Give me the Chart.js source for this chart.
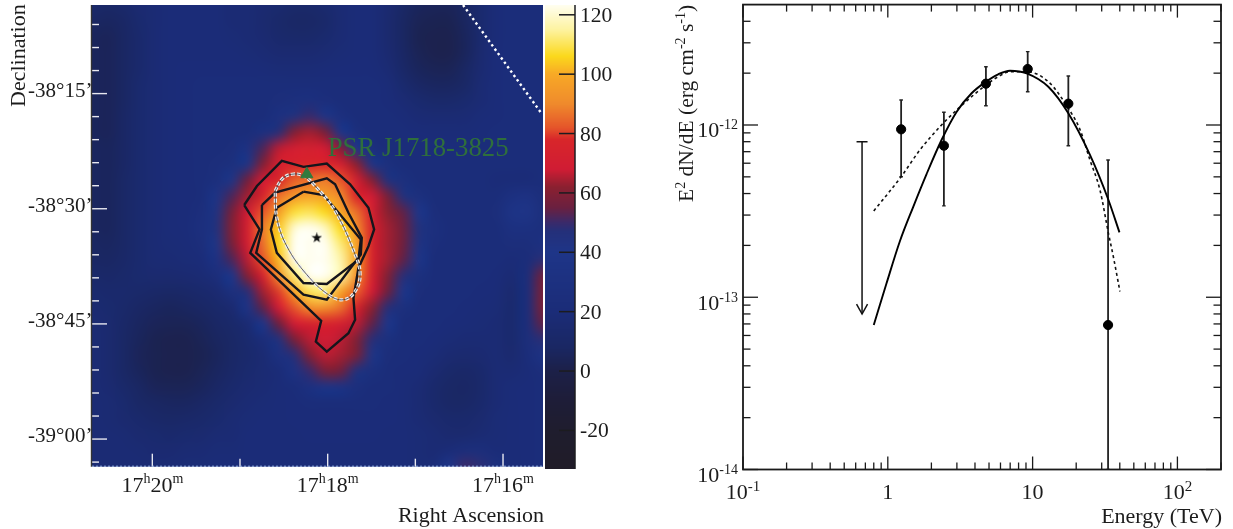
<!DOCTYPE html>
<html>
<head>
<meta charset="utf-8">
<title>HESS J1718-385</title>
<script src="https://cdn.jsdelivr.net/npm/chart.js@4"></script>
<style>
html,body{margin:0;padding:0;background:#fff;overflow:hidden}
canvas{position:absolute;left:0;top:0}
</style>
</head>
<body>
<canvas id="map" width="1233" height="529"></canvas>
<canvas id="bar" width="1233" height="529"></canvas>
<canvas id="sed" width="1233" height="529"></canvas>
<script>
// excess map, rows top to bottom, columns left to right
var excess = [
[12,10,12,16,18,20,20,20,20,18,18,16,14,12,12,14,18,20,20,16,10,6,5,5,8,14,20,22,22,22],
[8,7,9,14,18,20,20,20,20,18,18,15,12,10,10,12,17,20,20,15,8,4,3,3,7,14,20,22,22,22],
[6,5,8,13,18,20,20,20,20,19,18,16,13,12,12,14,18,20,20,15,8,3,2,2,6,14,20,22,22,22],
[6,5,8,13,18,20,20,20,20,20,19,18,16,16,16,17,19,20,20,16,9,4,2,2,6,15,21,22,22,22],
[6,5,8,13,18,20,21,21,21,21,21,20,19,19,19,20,21,21,21,18,11,6,4,4,8,16,21,22,22,22],
[6,5,8,14,18,20,21,22,22,22,22,22,22,22,22,22,22,22,22,20,14,9,7,7,10,17,21,22,22,22],
[6,5,8,14,18,20,21,22,22,22,22,22,24,26,27,25,23,22,22,21,18,14,12,12,14,18,21,22,22,22],
[6,5,9,14,18,20,21,22,22,22,22,23,30,46,50,42,27,23,22,22,20,18,17,17,18,20,21,22,22,22],
[6,5,9,14,18,20,21,22,22,22,23,30,48,60,64,58,40,26,23,22,22,21,20,20,20,21,22,22,22,22],
[7,6,9,14,18,20,21,22,23,24,32,52,66,70,72,68,60,40,26,23,22,22,22,22,22,22,22,22,22,22],
[7,6,9,14,18,20,21,22,24,28,42,60,72,76,78,78,72,62,42,28,23,22,22,22,22,22,22,22,22,22],
[7,6,10,14,18,20,21,22,26,42,56,68,78,84,86,88,82,72,60,46,28,23,22,22,22,22,20,20,20,22],
[7,6,10,14,18,20,21,23,36,52,64,76,86,94,98,96,90,78,68,58,46,28,23,22,22,22,22,30,32,24],
[7,6,10,14,18,20,21,25,44,58,68,82,96,108,110,106,98,86,72,62,54,40,24,22,22,22,24,36,38,26],
[7,6,10,14,18,20,21,27,46,60,72,88,104,120,124,118,106,92,76,64,56,46,27,22,22,22,22,30,30,26],
[8,7,10,14,18,19,20,24,42,58,70,86,106,124,128,124,112,98,76,64,56,44,25,22,22,22,22,24,24,30],
[9,8,11,14,17,18,19,21,32,52,66,82,102,122,128,126,116,98,76,64,54,38,23,22,22,22,22,20,22,48],
[12,11,12,14,15,15,16,18,24,40,60,74,92,112,126,124,116,94,74,60,48,28,22,22,22,22,21,18,24,56],
[14,13,13,12,11,10,11,13,16,28,48,64,80,98,110,112,98,84,68,56,40,24,22,22,22,21,20,15,24,58],
[16,14,12,9,7,6,7,9,12,16,36,54,68,82,92,92,86,76,62,48,28,22,22,22,21,20,19,14,24,58],
[17,15,11,7,5,4,4,6,9,12,18,40,56,68,74,76,72,66,54,40,23,22,22,21,20,19,18,14,24,54],
[18,15,10,6,3,2,2,4,7,10,14,22,46,58,66,68,66,60,48,28,22,22,21,19,18,18,18,14,24,48],
[18,15,10,5,3,2,2,3,6,10,13,17,30,48,60,66,64,58,42,24,22,21,19,16,15,16,18,15,22,34],
[18,15,10,6,3,2,2,4,7,11,14,17,20,32,50,58,56,46,28,22,21,20,16,12,11,13,18,18,20,24],
[18,16,12,8,5,4,4,6,9,13,16,18,20,22,30,36,34,26,22,22,20,18,13,10,9,12,18,20,21,22],
[18,17,14,10,8,7,7,9,12,15,18,19,20,21,22,23,23,22,22,21,20,17,13,10,10,13,18,20,21,22],
[18,17,15,13,11,10,11,12,14,17,19,20,20,21,21,21,21,21,21,21,20,18,15,13,13,15,19,20,21,22],
[18,18,17,15,14,13,14,15,17,18,20,20,20,20,21,21,21,21,21,20,20,19,17,15,15,17,19,20,21,22],
[18,18,18,17,16,16,17,18,19,19,20,20,20,20,20,20,20,20,20,20,20,19,18,20,24,24,20,20,21,22],
[18,18,18,18,18,18,19,19,20,20,20,20,20,20,20,20,20,20,20,20,20,19,20,40,50,48,28,20,21,22]
];

// contours, RA in minutes after 17h, Dec in arcmin after -38 deg
var outerRa  = [18.952,18.807,18.523,18.276,18.010,17.744,17.535,17.470,17.535,17.649,17.706,17.687,17.763,18.010,18.135,18.074,18.883,18.777];
var outerDec = [-29.516,-27.032,-23.762,-24.547,-24.111,-26.814,-29.865,-32.699,-34.878,-37.712,-41.635,-44.469,-46.212,-48.610,-47.302,-44.599,-35.750,-32.699];
var midRa    = [18.750,18.599,18.010,17.915,17.763,17.611,17.622,18.010,18.276,18.815,18.750];
var midDec   = [-29.516,-27.904,-26.029,-26.814,-30.519,-33.788,-35.968,-41.853,-41.199,-35.750,-32.699];
var innerRa  = [18.276,18.048,17.858,17.622,17.649,18.010,18.276,18.580,18.648,18.580];
var innerDec = [-27.773,-28.209,-30.737,-34.006,-36.622,-39.804,-39.673,-35.750,-32.699,-29.865];
var ellipseRa  = [18.599,18.523,18.409,18.276,18.143,17.915,17.687,17.630,17.687,17.820,17.991,18.238,18.466,18.580];
var ellipseDec = [-27.686,-26.160,-25.506,-25.724,-27.032,-30.301,-35.968,-38.584,-40.763,-41.853,-41.199,-38.584,-34.878,-31.173];
var planeRa  = [16.456,15.567];
var planeDec = [-3.46,-17.485];
var pulsarRa = [18.238], pulsarDec = [-25.506];
var peakRa = [18.124], peakDec = [-33.789];

var raMajor = [20,18,16];
var raMinor = [19,17];
var raLabels = [["17","h","20","m"],["17","h","18","m"],["17","h","16","m"]];
var decMajor = [-15,-30,-45,-60];
var decMinor = [-6,-9,-12,-18,-21,-24,-27,-33,-36,-39,-42,-48,-51,-54,-57,-63];
var decLabels = ["-38°15’","-38°30’","-38°45’","-39°00’"];
var barTicks = [120,100,80,60,40,20,0,-20];

// colour bar stops
var barLevels = [-33,-20,-10,0,8,20,40,47,50,55,62,68,78,82,90,100,106,115,123.3];
var barColours = ["#201c28","#1f1d2e","#1e1d38","#1c2048","#1a2763","#1b2c78","#1e3588","#24307a","#3a2a6a","#6a2040","#8b2030","#d01c34","#d8262a","#e5552a","#ef8a2c","#f8a926","#fbd81c","#fdf3a0","#fffef0"];

// spectrum
var energy = [1.236,2.44,4.76,9.25,17.65,33.2];
var flux   = [9.44e-13,7.58e-13,1.737e-12,2.114e-12,1.33e-12,6.9e-14];
var fluxHi = [1.397e-12,1.185e-12,2.18e-12,2.665e-12,1.925e-12,6.26e-13];
var fluxLo = [5.01e-13,3.39e-13,1.294e-12,1.56e-12,7.58e-13,1e-14];
var limitEnergy = [0.664,0.664];
var limitFlux = [8.0e-13,7.99e-14];
var solidE = [0.80,0.98,1.21,1.496,1.852,2.35,2.99,3.79,4.76,5.79,6.98,9.10,12.84,17.65,24.9,33.4,39.8];
var solidF = [6.9e-14,1.205e-13,2.107e-13,3.34e-13,5.19e-13,8.18e-13,1.195e-12,1.528e-12,1.784e-12,1.97e-12,2.066e-12,1.996e-12,1.668e-12,1.169e-12,6.7e-13,3.67e-13,2.38e-13];
var dashE = [0.80,1.236,1.665,2.35,2.99,3.79,4.76,5.79,6.98,9.10,12.84,17.65,21.3,24.9,29.2,33.4,36.1,40.1];
var dashF = [3.17e-13,5.01e-13,7.16e-13,1e-12,1.222e-12,1.46e-12,1.707e-12,1.907e-12,2.038e-12,2.038e-12,1.784e-12,1.25e-12,9.35e-13,6.26e-13,4.19e-13,2.35e-13,1.72e-13,1.08e-13];
var energyMajor = [0.1,1,10,100];
var energyMinor = [0.2,0.3,0.4,0.5,0.6,0.7,0.8,0.9,2,3,4,5,6,7,8,9,20,30,40,50,60,70,80,90,200];
var energyLabels = [["10","-1"],["1",""],["10",""],["10","2"]];
var fluxMajor = [1e-14,1e-13,1e-12];
var fluxMinor = [2e-14,3e-14,4e-14,5e-14,6e-14,7e-14,8e-14,9e-14,2e-13,3e-13,4e-13,5e-13,6e-13,7e-13,8e-13,9e-13,2e-12,3e-12,4e-12];
var fluxLabels = [["10","-14"],["10","-13"],["10","-12"]];

var serif = '"Liberation Serif", serif';
var ink = "#1c1c1c";

function pts(xs, ys, close){
  var out = [];
  for (var i = 0; i < xs.length; i++) out.push({x:xs[i], y:ys[i]});
  if (close) out.push({x:xs[0], y:ys[0]});
  return out;
}

function hexRgb(h){
  return [parseInt(h.substr(1,2),16), parseInt(h.substr(3,2),16), parseInt(h.substr(5,2),16)];
}

function colourFor(v){
  var n = barLevels.length;
  if (v <= barLevels[0]) return hexRgb(barColours[0]);
  if (v >= barLevels[n-1]) return hexRgb(barColours[n-1]);
  for (var i = 1; i < n; i++){
    if (v <= barLevels[i]){
      var t = (v - barLevels[i-1]) / (barLevels[i] - barLevels[i-1]);
      var a = hexRgb(barColours[i-1]), b = hexRgb(barColours[i]);
      return [a[0]+(b[0]-a[0])*t, a[1]+(b[1]-a[1])*t, a[2]+(b[2]-a[2])*t];
    }
  }
}

// text made of normal and raised runs, odd entries are raised
function rich(ctx, parts, x, y, align, size, supSize, raise){
  var total = 0, i;
  for (i = 0; i < parts.length; i++){
    ctx.font = (i % 2 ? supSize : size) + "px " + serif;
    total += ctx.measureText(parts[i]).width;
  }
  var cx = align == "right" ? x - total : align == "center" ? x - total/2 : x;
  ctx.textAlign = "left";
  ctx.textBaseline = "alphabetic";
  for (i = 0; i < parts.length; i++){
    ctx.font = (i % 2 ? supSize : size) + "px " + serif;
    ctx.fillText(parts[i], cx, i % 2 ? y - raise : y);
    cx += ctx.measureText(parts[i]).width;
  }
}

function starCanvas(size){
  var c = document.createElement("canvas");
  c.width = size; c.height = size;
  var g = c.getContext("2d");
  g.fillStyle = "#111";
  g.beginPath();
  for (var i = 0; i < 10; i++){
    var r = i % 2 ? size*0.2 : size*0.5;
    var a = -Math.PI/2 + i*Math.PI/5;
    g.lineTo(size/2 + r*Math.cos(a), size/2 + r*Math.sin(a));
  }
  g.closePath();
  g.fill();
  return c;
}

function setTicks(list){
  return function(scale){ scale.ticks = list.map(function(v){ return {value:v}; }); };
}
function noWidth(scale){ scale.width = 0; }
function noHeight(scale){ scale.height = 0; }

function hLine(ctx, x0, x1, y){ ctx.beginPath(); ctx.moveTo(x0,y); ctx.lineTo(x1,y); ctx.stroke(); }
function vLine(ctx, x, y0, y1){ ctx.beginPath(); ctx.moveTo(x,y0); ctx.lineTo(x,y1); ctx.stroke(); }

// ---- map ----
var heatPlugin = {
  id:"heat",
  beforeDatasetsDraw:function(chart){
    var a = chart.chartArea, ctx = chart.ctx;
    var rows = excess.length, cols = excess[0].length;
    var off = document.createElement("canvas");
    off.width = cols; off.height = rows;
    var g = off.getContext("2d");
    var img = g.createImageData(cols, rows);
    for (var r = 0; r < rows; r++){
      for (var c = 0; c < cols; c++){
        var rgb = colourFor(excess[r][c]), k = (r*cols + c)*4;
        img.data[k] = rgb[0]; img.data[k+1] = rgb[1]; img.data[k+2] = rgb[2]; img.data[k+3] = 255;
      }
    }
    g.putImageData(img, 0, 0);
    ctx.save();
    ctx.imageSmoothingEnabled = true;
    ctx.imageSmoothingQuality = "high";
    ctx.beginPath();
    ctx.rect(a.left, a.top, a.right-a.left, a.bottom-a.top);
    ctx.clip();
    var cw = (a.right-a.left)/cols, ch = (a.bottom-a.top)/rows;
    ctx.drawImage(off, a.left-cw/2, a.top-ch/2, (a.right-a.left)+cw, (a.bottom-a.top)+ch);
    ctx.restore();
  },
  afterDatasetsDraw:function(chart){
    var ctx = chart.ctx, a = chart.chartArea, sx = chart.scales.x, sy = chart.scales.y, i;
    ctx.save();
    ctx.strokeStyle = "#e8e8f0";
    ctx.lineWidth = 1.4;
    for (i = 0; i < decMajor.length; i++) hLine(ctx, a.left, a.left+15, sy.getPixelForValue(decMajor[i]));
    for (i = 0; i < decMinor.length; i++) hLine(ctx, a.left, a.left+7, sy.getPixelForValue(decMinor[i]));
    for (i = 0; i < raMajor.length; i++) vLine(ctx, sx.getPixelForValue(raMajor[i]), a.bottom, a.bottom-13);
    for (i = 0; i < raMinor.length; i++) vLine(ctx, sx.getPixelForValue(raMinor[i]), a.bottom, a.bottom-8);
    ctx.strokeStyle = "#333";
    vLine(ctx, a.left-0.5, a.top, a.bottom);
    // pale dotted edge along the bottom of the map
    ctx.strokeStyle = "#9db8e6";
    ctx.lineWidth = 1;
    ctx.setLineDash([2,2]);
    hLine(ctx, a.left, a.right, a.bottom-0.5);
    ctx.restore();
  },
  afterDraw:function(chart){
    var ctx = chart.ctx, a = chart.chartArea, sx = chart.scales.x, sy = chart.scales.y, i;
    ctx.save();
    ctx.fillStyle = ink;
    for (i = 0; i < decMajor.length; i++)
      rich(ctx, [decLabels[i]], a.left+0.5, sy.getPixelForValue(decMajor[i])+3, "right", 21, 14, 0);
    for (i = 0; i < raMajor.length; i++)
      rich(ctx, raLabels[i], sx.getPixelForValue(raMajor[i]), 491.5, "center", 22, 14, 9);
    rich(ctx, ["Right Ascension"], 544, 522, "right", 22, 14, 0);
    ctx.translate(25, 107);
    ctx.rotate(-Math.PI/2);
    rich(ctx, ["Declination"], 0, 0, "left", 22, 14, 0);
    ctx.restore();
    ctx.save();
    ctx.fillStyle = "#2f6f3c";
    rich(ctx, ["PSR J1718-3825"], sx.getPixelForValue(18), sy.getPixelForValue(-23.1), "left", 26.8, 14, 0);
    ctx.restore();
  }
};

new Chart(document.getElementById("map"), {
  type:"line",
  data:{datasets:[
    {data:pts(peakRa,peakDec), showLine:false, pointStyle:starCanvas(11), pointRadius:5},
    {data:pts(pulsarRa,pulsarDec), showLine:false, pointStyle:"triangle", pointRadius:7, pointBackgroundColor:"#2f7a3e", pointBorderColor:"#2f7a3e"},
    {data:pts(ellipseRa,ellipseDec,true), borderColor:"#3a3a44", borderWidth:0.8, pointRadius:0, tension:0.4},
    {data:pts(ellipseRa,ellipseDec,true), borderColor:"#eeeeee", borderWidth:3.2, borderDash:[4,2], pointRadius:0, tension:0.4},
    {data:pts(outerRa,outerDec,true), borderColor:"#15151c", borderWidth:2.4, pointRadius:0, tension:0},
    {data:pts(midRa,midDec,true), borderColor:"#15151c", borderWidth:2.4, pointRadius:0, tension:0},
    {data:pts(innerRa,innerDec,true), borderColor:"#15151c", borderWidth:2.4, pointRadius:0, tension:0},
    {data:pts(planeRa,planeDec), borderColor:"#ffffff", borderWidth:2.4, borderDash:[2.4,3], pointRadius:0, tension:0}
  ]},
  options:{
    responsive:false, animation:false, events:[],
    layout:{autoPadding:false, padding:{left:92, top:5, right:1233-543, bottom:529-466.7}},
    plugins:{legend:{display:false}, tooltip:{enabled:false}},
    scales:{
      x:{type:"linear", reverse:true, min:15.544, max:20.688, afterFit:noHeight, afterBuildTicks:setTicks(raMajor.concat(raMinor)),
         grid:{display:false}, border:{display:false}, ticks:{display:false}},
      y:{type:"linear", min:-63.6, max:-3.46, afterFit:noWidth, afterBuildTicks:setTicks(decMajor.concat(decMinor)),
         grid:{display:false}, border:{display:false}, ticks:{display:false}}
    }
  },
  plugins:[heatPlugin]
});

// ---- colour bar ----
var barPlugin = {
  id:"colourbar",
  beforeDatasetsDraw:function(chart){
    var a = chart.chartArea, ctx = chart.ctx, sy = chart.scales.y;
    for (var py = Math.floor(a.top); py < a.bottom; py++){
      var rgb = colourFor(sy.getValueForPixel(py+0.5));
      ctx.fillStyle = "rgb("+Math.round(rgb[0])+","+Math.round(rgb[1])+","+Math.round(rgb[2])+")";
      ctx.fillRect(a.left, py, a.right-a.left, 1);
    }
  },
  afterDraw:function(chart){
    var a = chart.chartArea, ctx = chart.ctx, sy = chart.scales.y;
    ctx.save();
    ctx.strokeStyle = "#1c1c20";
    ctx.lineWidth = 1.5;
    vLine(ctx, a.right, a.top, a.bottom);
    ctx.fillStyle = ink;
    for (var i = 0; i < barTicks.length; i++){
      var py = sy.getPixelForValue(barTicks[i]);
      hLine(ctx, a.right-16, a.right, py);
      rich(ctx, [String(barTicks[i])], a.right+5, py+7, "left", 21.5, 14, 0);
    }
    ctx.restore();
  }
};

new Chart(document.getElementById("bar"), {
  type:"line",
  data:{datasets:[{data:pts([0,1],[123.3,-33]), borderWidth:0, pointRadius:0}]},
  options:{
    responsive:false, animation:false, events:[],
    layout:{autoPadding:false, padding:{left:545, top:5, right:1233-575, bottom:529-469}},
    plugins:{legend:{display:false}, tooltip:{enabled:false}},
    scales:{
      x:{type:"linear", min:0, max:1, afterFit:noHeight, grid:{display:false}, border:{display:false}, ticks:{display:false}},
      y:{type:"linear", min:-33, max:123.3, afterFit:noWidth, afterBuildTicks:setTicks(barTicks), grid:{display:false}, border:{display:false}, ticks:{display:false}}
    }
  },
  plugins:[barPlugin]
});

// ---- spectrum ----
var sedPlugin = {
  id:"sedframe",
  afterDatasetsDraw:function(chart){
    var ctx = chart.ctx, sx = chart.scales.x, sy = chart.scales.y;
    var px = sx.getPixelForValue(limitEnergy[1]), py = sy.getPixelForValue(limitFlux[1]);
    ctx.save();
    ctx.strokeStyle = "#111";
    ctx.lineWidth = 1.5;
    ctx.beginPath();
    ctx.moveTo(px-5.5, py-10);
    ctx.lineTo(px, py);
    ctx.lineTo(px+5.5, py-10);
    ctx.stroke();
    ctx.restore();
  },
  afterDraw:function(chart){
    var ctx = chart.ctx, a = chart.chartArea, sx = chart.scales.x, sy = chart.scales.y, i, p;
    ctx.save();
    ctx.strokeStyle = "#1a1a1a";
    ctx.lineWidth = 1.3;
    for (i = 0; i < energyMajor.length; i++){
      p = sx.getPixelForValue(energyMajor[i]);
      vLine(ctx, p, a.bottom, a.bottom-13);
      vLine(ctx, p, a.top, a.top+13);
    }
    for (i = 0; i < energyMinor.length; i++){
      p = sx.getPixelForValue(energyMinor[i]);
      vLine(ctx, p, a.bottom, a.bottom-7);
      vLine(ctx, p, a.top, a.top+7);
    }
    for (i = 0; i < fluxMajor.length; i++){
      p = sy.getPixelForValue(fluxMajor[i]);
      hLine(ctx, a.left, a.left+15, p);
      hLine(ctx, a.right, a.right-15, p);
    }
    for (i = 0; i < fluxMinor.length; i++){
      p = sy.getPixelForValue(fluxMinor[i]);
      hLine(ctx, a.left, a.left+7.5, p);
      hLine(ctx, a.right, a.right-7.5, p);
    }
    ctx.lineWidth = 1.8;
    ctx.strokeRect(a.left, a.top, a.right-a.left, a.bottom-a.top);
    ctx.fillStyle = ink;
    for (i = 0; i < energyMajor.length; i++)
      rich(ctx, energyLabels[i], sx.getPixelForValue(energyMajor[i]), 499, "center", 22, 15, 8);
    for (i = 0; i < fluxMajor.length; i++)
      rich(ctx, fluxLabels[i], 738, sy.getPixelForValue(fluxMajor[i])+12.5, "right", 22, 14, 8);
    rich(ctx, ["Energy (TeV)"], 1222, 523, "right", 22, 15, 0);
    ctx.translate(692.5, 202);
    ctx.rotate(-Math.PI/2);
    rich(ctx, ["E","2"," dN/dE (erg cm","-2"," s","-1",")"], 0, 0, "left", 21.5, 14, 8);
    ctx.restore();
  }
};

var sedSets = [
  {data:pts(energy,flux), showLine:false, pointStyle:"circle", pointRadius:4.6, pointBackgroundColor:"#000", pointBorderColor:"#000"},
  {data:pts(limitEnergy,limitFlux), borderColor:"#111", borderWidth:1.5, pointStyle:["line",false], pointRadius:[5.5,0], pointBorderColor:"#111", pointBorderWidth:1.6},
  {data:pts(solidE,solidF), borderColor:"#000", borderWidth:1.9, pointRadius:0, cubicInterpolationMode:"monotone"},
  {data:pts(dashE,dashF), borderColor:"#111", borderWidth:1.6, borderDash:[3,3], pointRadius:0, cubicInterpolationMode:"monotone"}
];
for (var b = 0; b < energy.length; b++){
  sedSets.push({data:pts([energy[b],energy[b]],[fluxLo[b],fluxHi[b]]), borderColor:"#222", borderWidth:1.8,
    pointStyle:"line", pointRadius:1.8, pointBorderColor:"#222", pointBorderWidth:1.4});
}

new Chart(document.getElementById("sed"), {
  type:"line",
  data:{datasets:sedSets},
  options:{
    responsive:false, animation:false, events:[],
    layout:{autoPadding:false, padding:{left:743, top:4.6, right:1233-1221, bottom:529-469.5}},
    plugins:{legend:{display:false}, tooltip:{enabled:false}},
    scales:{
      x:{type:"logarithmic", min:0.1, max:200, afterFit:noHeight, afterBuildTicks:setTicks(energyMajor.concat(energyMinor)),
         grid:{display:false}, border:{display:false}, ticks:{display:false}},
      y:{type:"logarithmic", min:1e-14, max:5e-12, afterFit:noWidth, afterBuildTicks:setTicks(fluxMajor.concat(fluxMinor)),
         grid:{display:false}, border:{display:false}, ticks:{display:false}}
    }
  },
  plugins:[sedPlugin]
});
</script>
</body>
</html>
